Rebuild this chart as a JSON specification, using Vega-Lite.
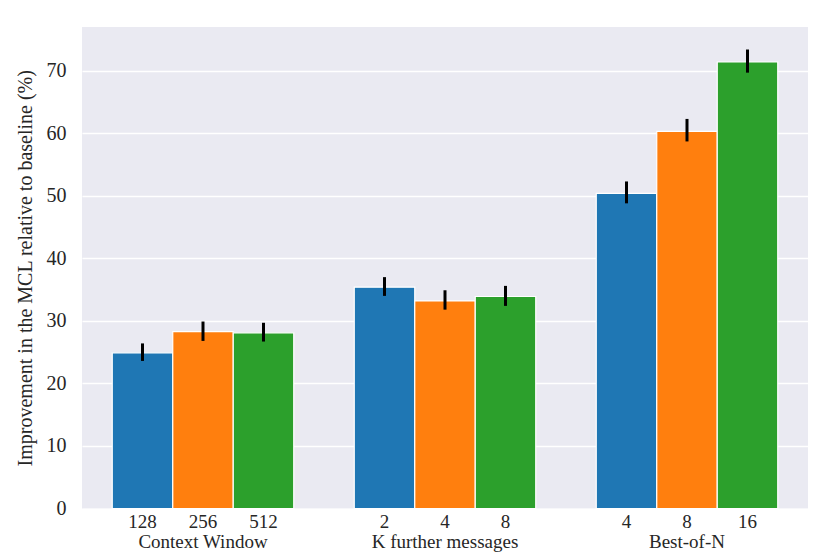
{
  "$schema": "https://vega.github.io/schema/vega-lite/v6.json",
  "width": 726,
  "height": 481.5,
  "autosize": {"type": "none"},
  "padding": {"left": 82, "top": 27, "right": 22, "bottom": 45.5},
  "background": "white",
  "config": {
    "view": {"fill": "#EAEAF2", "stroke": null},
    "font": "Liberation Serif",
    "axis": {"labelFont": "Liberation Serif", "titleFont": "Liberation Serif", "labelColor": "#262626", "titleColor": "#262626"}
  },
  "data": {
    "values": [
      {"group": "Context Window", "idx": 1, "label": "128", "value": 24.9, "lo": 23.6, "hi": 26.4},
      {"group": "Context Window", "idx": 2, "label": "256", "value": 28.3, "lo": 26.8, "hi": 29.9},
      {"group": "Context Window", "idx": 3, "label": "512", "value": 28.1, "lo": 26.7, "hi": 29.7},
      {"group": "K further messages", "idx": 1, "label": "2", "value": 35.4, "lo": 34.0, "hi": 37.0},
      {"group": "K further messages", "idx": 2, "label": "4", "value": 33.2, "lo": 31.8, "hi": 34.9},
      {"group": "K further messages", "idx": 3, "label": "8", "value": 33.9, "lo": 32.4, "hi": 35.6},
      {"group": "Best-of-N", "idx": 1, "label": "4", "value": 50.4, "lo": 48.8, "hi": 52.3},
      {"group": "Best-of-N", "idx": 2, "label": "8", "value": 60.3, "lo": 58.7, "hi": 62.3},
      {"group": "Best-of-N", "idx": 3, "label": "16", "value": 71.4, "lo": 69.7, "hi": 73.4}
    ]
  },
  "encoding": {
    "x": {
      "field": "group",
      "type": "nominal",
      "sort": null,
      "scale": {"paddingInner": 0.25, "paddingOuter": 0.125},
      "axis": {
        "title": null,
        "labelAngle": 0,
        "labelFontSize": 19,
        "labelPadding": 24,
        "ticks": false,
        "domain": false,
        "grid": false
      }
    },
    "xOffset": {
      "field": "idx",
      "type": "nominal",
      "scale": {"paddingInner": 0, "paddingOuter": 0}
    }
  },
  "layer": [
    {
      "mark": {"type": "bar", "stroke": "white", "strokeWidth": 1.2},
      "encoding": {
        "y": {
          "field": "value",
          "type": "quantitative",
          "scale": {"domain": [0, 77], "nice": false},
          "axis": {
            "title": "Improvement in the MCL relative to baseline (%)",
            "titleFontSize": 20,
            "titleFontWeight": "normal",
            "titlePadding": 11,
            "labelFontSize": 20,
            "labelPadding": 16,
            "values": [0, 10, 20, 30, 40, 50, 60, 70],
            "ticks": false,
            "domain": false,
            "grid": true,
            "gridColor": "white",
            "gridWidth": 1.5
          }
        },
        "color": {
          "field": "idx",
          "type": "nominal",
          "scale": {"domain": [1, 2, 3], "range": ["#1f77b4", "#ff7f0e", "#2ca02c"]},
          "legend": null
        }
      }
    },
    {
      "mark": {"type": "rule", "color": "black", "strokeWidth": 3},
      "encoding": {
        "y": {"field": "lo", "type": "quantitative"},
        "y2": {"field": "hi"}
      }
    },
    {
      "mark": {"type": "text", "baseline": "top", "dy": 4, "fontSize": 19, "color": "#262626"},
      "encoding": {
        "y": {"datum": 0, "type": "quantitative"},
        "text": {"field": "label"}
      }
    }
  ]
}
